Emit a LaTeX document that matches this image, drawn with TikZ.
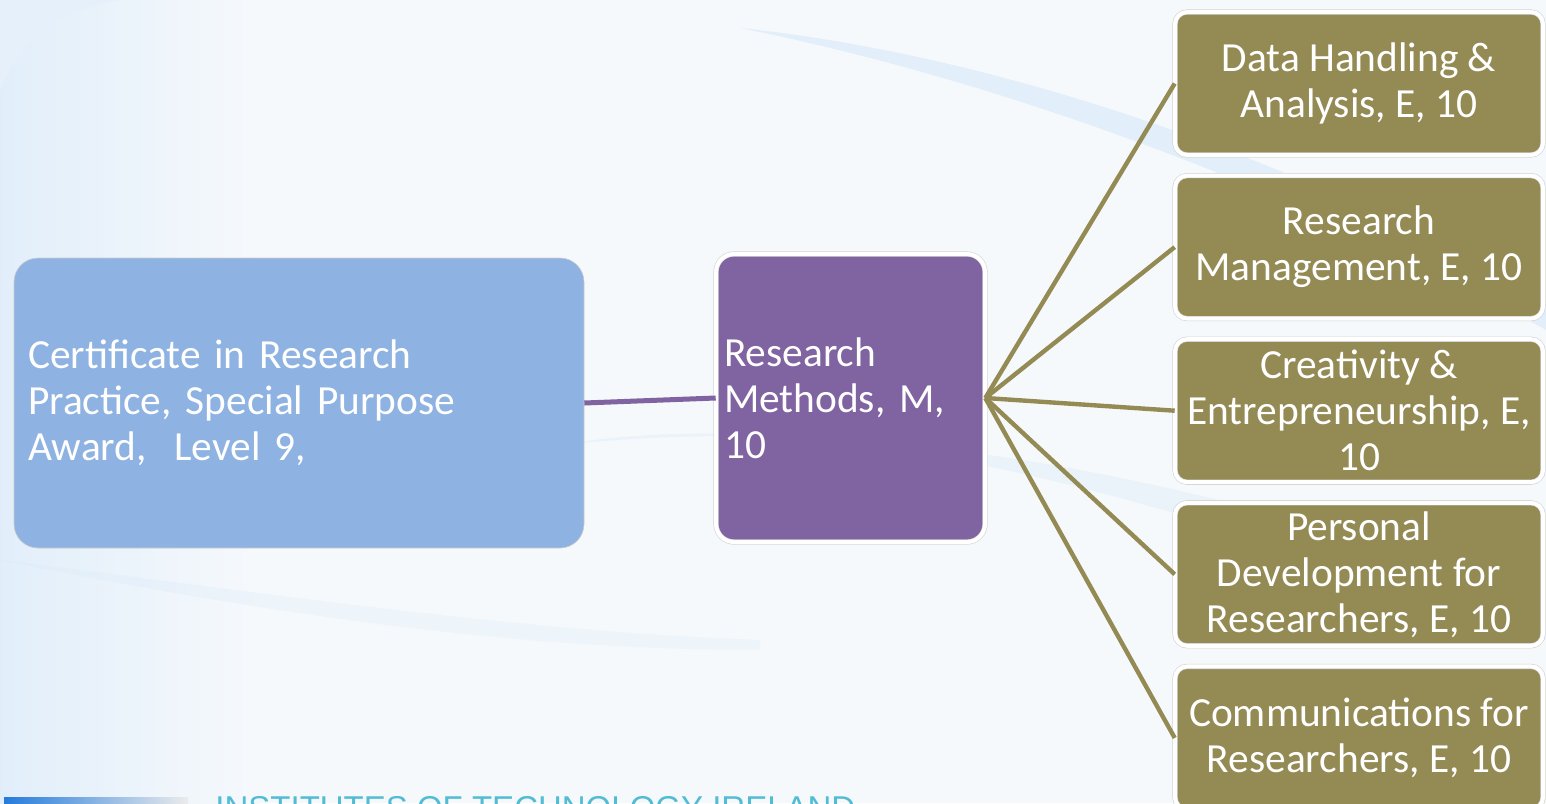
\documentclass[tikz,border=0pt]{standalone}
\usepackage{fontspec}
\setmainfont{Carlito}
\newfontfamily\logofont{Liberation Sans}
\usetikzlibrary{positioning}
\definecolor{certblue}{RGB}{142,178,225}
\definecolor{methpurple}{RGB}{128,99,161}
\definecolor{modolive}{RGB}{148,138,84}
\definecolor{bgpale}{RGB}{246,249,252}
\definecolor{swoosh}{RGB}{218,234,248}
\definecolor{logoteal}{RGB}{52,176,204}

\begin{document}
\begin{tikzpicture}[
		x=0.5pt,y=-0.5pt,
		txt/.style={text=white, font=\fontsize{20.7}{23}\selectfont},
		rim/.style={draw=gray!35, line width=0.3pt, double=white, double distance=2pt},
		module/.style={rim, txt, fill=modolive, rounded corners=6pt, align=center,
			minimum width=184pt, minimum height=71.5pt, inner sep=2pt},
		link/.style={line width=2.2pt, modolive}
		]
		% ====== NỀN ======
		\useasboundingbox (0,0) rectangle (1546,803);
		\clip (0,0) rectangle (1546,803);
		\fill[bgpale] (0,0) rectangle (1546,803);
		\fill[left color=swoosh!80, right color=bgpale] (0,0) rectangle (260,803);
		\fill[swoosh!70] (0,90) .. controls (20,40) and (60,10) .. (120,0) -- (0,0) -- cycle;
		\fill[swoosh, opacity=0.7] (740,28) .. controls (1000,80) and (1300,190) .. (1546,330)
			-- (1546,300) .. controls (1300,160) and (1000,55) .. cycle;
		\fill[swoosh, opacity=0.4] (560,445) .. controls (800,405) and (1100,470) .. (1546,640)
			-- (1546,600) .. controls (1100,440) and (800,420) .. cycle;
		\fill[swoosh, opacity=0.3] (0,560) .. controls (250,610) and (500,650) .. (760,650)
			-- (760,640) .. controls (500,630) and (250,590) .. cycle;
		
		% ====== LOGO (bị cắt ở mép dưới) ======
		\fill[left color=logoteal!70!blue, right color=gray!15] (4,797) rectangle (188,812);
		\node[anchor=base west, inner sep=0pt, text=logoteal!85,
		font=\logofont\fontsize{16.5}{18}\selectfont] (logo) at (215,819)
		{INSTITUTES OF TECHNOLOGY IRELAND};
		
		% ====== CỘT TRÁI + GIỮA ======
		\node[txt, draw=gray!40, line width=0.3pt, fill=certblue, rounded corners=12pt,
		align=left, text width=271pt, inner xsep=7pt, minimum width=285pt, minimum height=145pt] (cert)
		at (299,403)
		{Certificate in Research\\
			Practice, Special Purpose\\
			Award,\ \ Level 9,};
		
		\node[rim, txt, fill=methpurple, rounded corners=9pt, align=left,
		text width=126.5pt, inner xsep=4pt, minimum width=134.5pt, minimum height=144pt] (meth)
		at (850.5,398)
		{Research\\
			Methods, M,\\
			10};
		
		% ====== CỘT PHẢI ======
		\node[module] (m1) at (1359,83.5) {Data Handling \&\\ Analysis, E, 10};
		\node[module, below=10pt of m1] (m2) {Research\\ Management, E, 10};
		\node[module, below=10pt of m2] (m3) {Creativity \&\\ Entrepreneurship, E,\\ 10};
		\node[module, below=10pt of m3] (m4) {Personal\\ Development for\\ Researchers, E, 10};
		\node[module, below=10pt of m4] (m5) {Communications for\\ Researchers, E, 10};
		
		% ====== ĐƯỜNG NỐI ======
		\draw[line width=2.5pt, methpurple] (cert.east) -- (meth.west);
		\draw[link] (meth.east) -- (m1.west);
		\draw[link] (meth.east) -- (m2.west);
		\draw[link] (meth.east) -- (m3.west);
		\draw[link] (meth.east) -- (m4.west);
		\draw[link] (meth.east) -- (m5.west);
		
\end{tikzpicture}
\end{document}
